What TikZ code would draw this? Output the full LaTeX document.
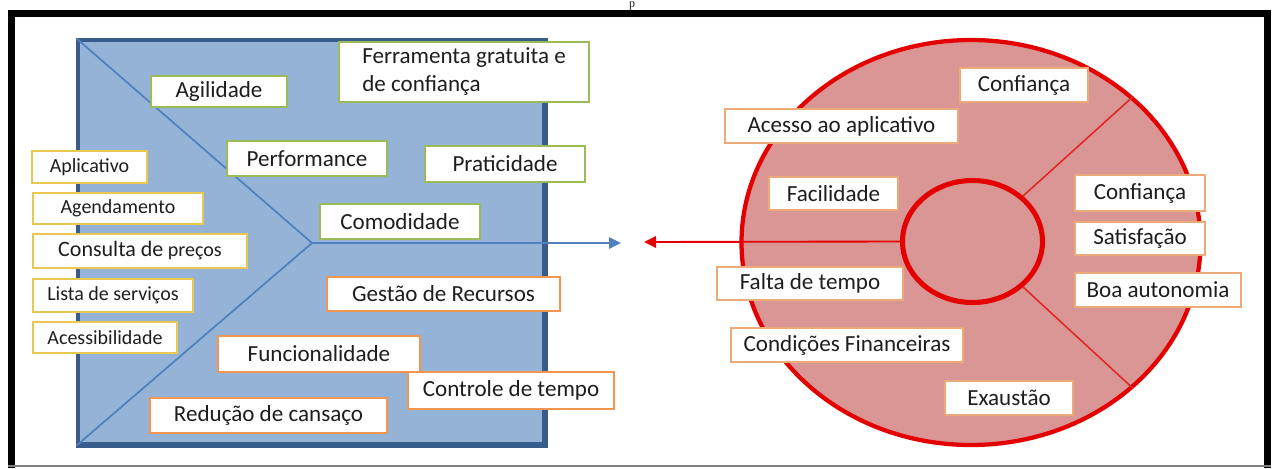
\documentclass[tikz,border=0pt]{standalone}
\usepackage{fontspec}
\setmainfont{Carlito}
\newfontfamily\serifp{Liberation Serif}
\usetikzlibrary{shapes.geometric,arrows.meta}
\definecolor{blueFill}{RGB}{149,179,215}
\definecolor{blueEdge}{RGB}{56,93,138}
\definecolor{blueLine}{RGB}{79,129,189}
\definecolor{redFill}{RGB}{217,150,148}
\definecolor{redEdge}{RGB}{228,0,0}
\definecolor{redLine}{RGB}{225,40,40}
\definecolor{greenB}{RGB}{155,187,89}
\definecolor{orangeB}{RGB}{240,150,80}
\definecolor{orangeR}{RGB}{236,170,120}
\definecolor{yellowB}{RGB}{232,200,80}
\definecolor{textc}{RGB}{30,30,30}
\begin{document}
\begin{tikzpicture}[x=0.75pt,y=-0.75pt,
  wh/.style 2 args={minimum width=#1*0.75pt, minimum height=#2*0.75pt},
  lab/.style={draw, fill=white, line width=1.1pt, inner sep=0pt, text=textc,
    font=\fontsize{17.3}{21}\selectfont},
  gbox/.style={lab, draw=greenB},
  obox/.style={lab, draw=orangeB},
  rbox/.style={lab, draw=orangeR},
  ybox/.style={lab, draw=yellowB, font=\fontsize{15}{18}\selectfont},
  tip/.style={-{Triangle[length=9pt,width=8.5pt]}}
]
\useasboundingbox (0,0) rectangle (1274,468);

% frame
\draw[line width=5.25pt] (11.5,468) -- (11.5,13.5) -- (1267,13.5) -- (1267,468);
\draw[gray, line width=1.5pt] (8,465.5) -- (1271,465.5);
\node[font=\serifp\fontsize{9}{9}\selectfont, anchor=base, text=textc, inner sep=0pt] (ptop) at (632,7.5) {p};

% blue square
\node[draw=blueEdge, fill=blueFill, line width=2.4pt, wh={466}{404}] (sq) at (311,242) {};
\draw[blueEdge, line width=3.4pt] (sq.north east) -- (sq.south east) -- (sq.south west);
\coordinate (j) at (312,243);
\draw[blueLine, line width=1.3pt] (sq.north west) -- (j) -- (sq.south west);
\coordinate (bt) at (621,243);
\draw[blueLine, line width=1.6pt, tip] (j) -- (bt);

% red circles
\node[ellipse, draw=redEdge, fill=redFill, line width=3.2pt, wh={459}{405}] (big) at (971,242.5) {};
\node[ellipse, draw=redEdge, fill=redFill, line width=3.8pt, wh={140}{122}] (in) at (972.5,241.5) {};
\draw[redLine, line width=1.2pt] (in.42) -- (big.42);
\draw[redLine, line width=1.2pt] (in.-42) -- (big.-42);
\coordinate (rt) at (644,242);
\draw[redEdge, line width=1.4pt, tip] (in.west) -- (rt);

% blue side labels
\node[gbox, wh={136}{31}] (agil) at (219,91.5) {Agilidade};
\node[gbox, wh={250}{60}, align=left] (ferr) at (464,72) {Ferramenta gratuita e\\de confiança};
\node[gbox, wh={160}{35}] (perf) at (307,158.5) {Performance};
\node[gbox, wh={160}{36}] (prat) at (505,164) {Praticidade};
\node[gbox, wh={160}{35}] (como) at (400,221.5) {Comodidade};
\node[obox, wh={233}{34}] (gest) at (443.5,294) {Gestão de Recursos};
\node[obox, wh={202}{36}] (func) at (319,354) {Funcionalidade};
\node[obox, wh={206}{37}] (ctrl) at (511,390.5) {Controle de tempo};
\node[obox, wh={237}{35}] (redu) at (268.5,415.5) {Redução de cansaço};

% left column
\node[ybox, wh={115}{32}] (apl) at (89.5,167) {Aplicativo};
\node[ybox, wh={170}{31}] (agen) at (118,208.5) {Agendamento};
\node[ybox, wh={214}{34}] (cons) at (140,251) {{\fontsize{16.5}{18}\selectfont Consulta de} preços};
\node[ybox, wh={160}{33}] (list) at (113,295.5) {Lista de serviços};
\node[ybox, wh={144}{31}] (aces) at (105,337.5) {Acessibilidade};

% red side labels
\node[rbox, wh={128}{34}] (conf1) at (1024,85) {Confiança};
\node[rbox, wh={233}{34}] (acap) at (841.5,126) {Acesso ao aplicativo};
\node[rbox, wh={129}{33}] (faci) at (833.5,193.5) {Facilidade};
\node[rbox, wh={186}{33}] (falt) at (810,283.5) {Falta de tempo};
\node[rbox, wh={232}{34}] (cond) at (847,345) {Condições Financeiras};
\node[rbox, wh={128}{34}] (exau) at (1009,398) {Exaustão};
\node[rbox, wh={130}{36}] (conf2) at (1140,193) {Confiança};
\node[rbox, wh={130}{33}] (sati) at (1140,238.5) {Satisfação};
\node[rbox, wh={166}{34}] (boa) at (1158,290) {Boa autonomia};
\end{tikzpicture}
\end{document}
